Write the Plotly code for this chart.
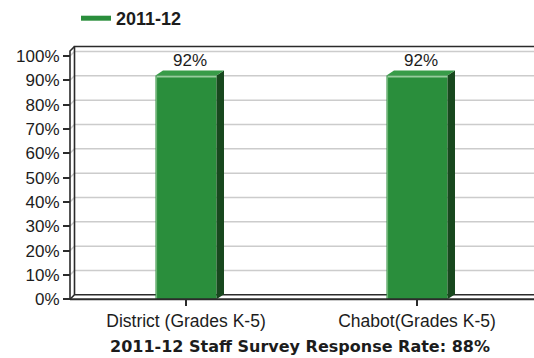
import plotly.graph_objects as go

# ---- data ----
categories = ["District (Grades K-5)", "Chabot(Grades K-5)"]
values = [92, 92]
series_name = "2011-12"
y_ticks = [0, 10, 20, 30, 40, 50, 60, 70, 80, 90, 100]
y_tick_labels = [f"{t}%" for t in y_ticks]
chart_title = "2011-12 Staff Survey Response Rate: 88%"

# ---- page geometry (pixels) ----
W, H = 534, 358
L, R, T, B = 66, 0, 44, 54
cat_px = 231.0          # pixels per category slot
first_center_px = 186.0
zero_px = 299.3         # pixel row of 0 %
px_per_pct = 2.433
front_axis_px = 70.0

xr = [(L - first_center_px) / cat_px, (W - R - first_center_px) / cat_px]
yr = [(zero_px - (H - B)) / px_per_pct, (zero_px - T) / px_per_pct]

# depth offsets in data units
wall_dx, wall_dy = 4.5 / cat_px, 4.5 / px_per_pct
bar_dx, bar_dy = 7.5 / cat_px, 5.0 / px_per_pct
bar_w = 61.0 / cat_px

ax0 = (front_axis_px - first_center_px) / cat_px
wall_x = ax0 + wall_dx
wall_top = (zero_px - 46.5) / px_per_pct

GREEN = "rgb(42,142,60)"
GREEN_SIDE = "rgb(24,72,30)"
GREEN_TOP = "rgb(56,156,72)"
HILITE = "rgb(150,205,155)"
FRAME = "#2b2b2b"
GRID = "#cccccc"
FONT = "Liberation Sans, Arial, sans-serif"
TEXT = "#1c1c1c"

shapes = []

# back-wall gridlines with their short diagonal from the front axis
for t in y_ticks[1:]:
    shapes.append(dict(
        type="path", xref="x", yref="y", layer="below",
        path=f"M{ax0},{t} L{wall_x},{t + wall_dy} L{xr[1]},{t + wall_dy}",
        line=dict(color=GRID, width=1.5),
    ))

# wall and floor frame
frame_paths = [
    f"M{wall_x},{wall_dy} L{wall_x},{wall_top} L{xr[1]},{wall_top}",
    f"M{ax0},{0} L{wall_x},{wall_dy} L{xr[1]},{wall_dy}",
    f"M{ax0},{0} L{ax0},{wall_top - wall_dy} L{wall_x},{wall_top}",
]
for p in frame_paths:
    shapes.append(dict(type="path", xref="x", yref="y", layer="below",
                       path=p, line=dict(color=FRAME, width=1.6)))

# 3-D faces of each bar
for i, v in enumerate(values):
    xl, xrt = i - bar_w / 2, i + bar_w / 2
    shapes.append(dict(
        type="path", xref="x", yref="y", layer="above",
        path=(f"M{xrt},{0} L{xrt + bar_dx},{bar_dy} L{xrt + bar_dx},{v + bar_dy} "
              f"L{xrt},{v} Z"),
        fillcolor=GREEN_SIDE, line=dict(width=0),
    ))
    shapes.append(dict(
        type="path", xref="x", yref="y", layer="above",
        path=(f"M{xl},{v} L{xl + bar_dx},{v + bar_dy} L{xrt + bar_dx},{v + bar_dy} "
              f"L{xrt},{v} Z"),
        fillcolor=GREEN_TOP, line=dict(width=0),
    ))
    shapes.append(dict(
        type="line", xref="x", yref="y", layer="above",
        x0=xl + 1.0 / cat_px, x1=xrt, y0=v - 0.5, y1=v - 0.5,
        line=dict(color=HILITE, width=1.5),
    ))
    shapes.append(dict(
        type="line", xref="x", yref="y", layer="above",
        x0=xl + 1.0 / cat_px, x1=xl + 1.0 / cat_px, y0=0, y1=v - 0.5,
        line=dict(color="rgb(110,180,118)", width=1.2),
    ))

# front floor edge
shapes.append(dict(type="line", xref="x", yref="y", layer="above",
                   x0=ax0, x1=xr[1], y0=0, y1=0,
                   line=dict(color=FRAME, width=2)))

fig = go.Figure()
fig.add_trace(go.Bar(
    x=list(range(len(categories))), y=values, width=bar_w,
    marker=dict(color=GREEN, line=dict(width=0)),
    showlegend=False, hoverinfo="skip",
))
fig.add_trace(go.Scatter(
    x=[None], y=[None], mode="lines",
    line=dict(color=GREEN, width=5),
    name=f"<b>{series_name}</b>",
))

annotations = []
for i, v in enumerate(values):
    annotations.append(dict(
        x=i, y=v, xref="x", yref="y", text=f"{v}%", showarrow=False,
        xanchor="center", yanchor="middle", xshift=3.5, yshift=14.5,
        font=dict(family=FONT, size=17, color=TEXT),
    ))
annotations.append(dict(
    x=(300 - L) / (W - L - R), y=(H - B - 346) / (H - T - B),
    xref="paper", yref="paper", text=f"<b>{chart_title}</b>",
    showarrow=False, xanchor="center", yanchor="middle",
    font=dict(family="DejaVu Sans, sans-serif", size=16, color=TEXT),
))

fig.update_layout(
    width=W, height=H,
    margin=dict(l=L, r=R, t=T, b=B, pad=0),
    paper_bgcolor="white", plot_bgcolor="white",
    shapes=shapes, annotations=annotations,
    showlegend=True,
    legend=dict(
        orientation="h", x=(76 - L) / (W - L - R), xanchor="left",
        y=(H - B - 0) / (H - T - B), yanchor="top",
        font=dict(family=FONT, size=18, color=TEXT),
        bgcolor="rgba(0,0,0,0)",
    ),
    xaxis=dict(
        range=xr, tickmode="array",
        tickvals=list(range(len(categories))), ticktext=categories,
        showgrid=False, zeroline=False, showline=False,
        ticks="outside", ticklen=6, tickwidth=1.5, tickcolor=FRAME,
        anchor="free", position=(H - B - zero_px) / (H - T - B),
        tickfont=dict(family=FONT, size=17.5, color=TEXT),
        fixedrange=True,
    ),
    yaxis=dict(
        range=yr, tickmode="array", tickvals=y_ticks, ticktext=y_tick_labels,
        showgrid=False, zeroline=False, showline=False,
        ticks="outside", ticklen=7, tickwidth=1.5, tickcolor=FRAME,
        anchor="free", position=(front_axis_px - L) / (W - L - R),
        tickfont=dict(family=FONT, size=17, color=TEXT),
        fixedrange=True,
    ),
)

fig.write_html("out.html")
